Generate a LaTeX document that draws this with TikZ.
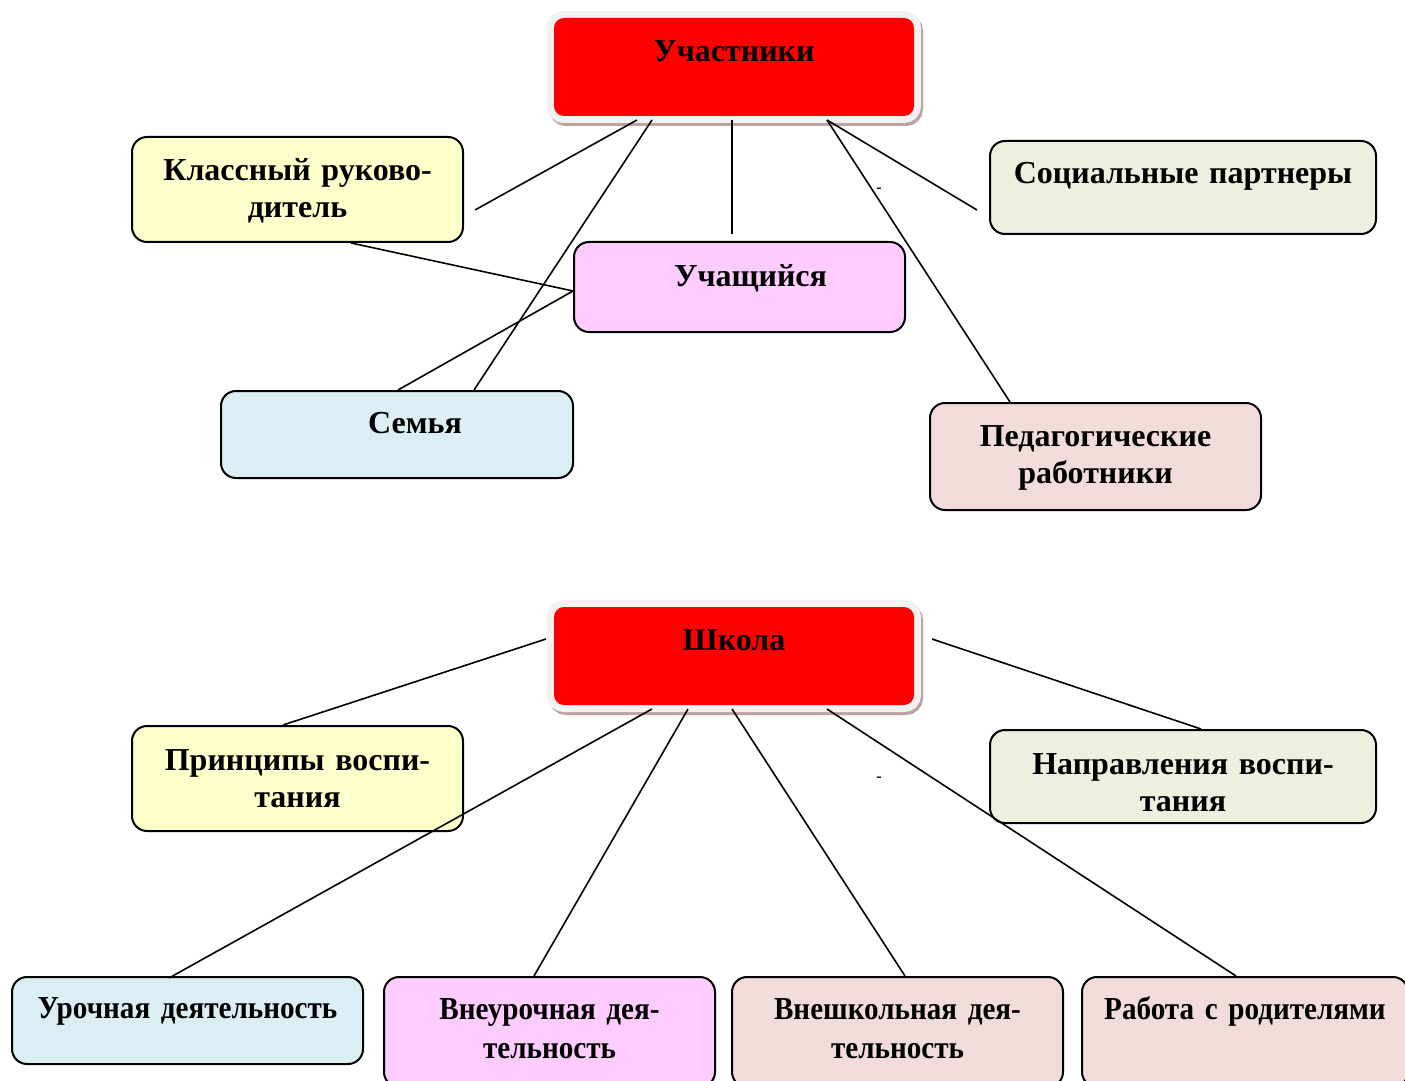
\documentclass[tikz,border=0pt]{standalone}
\usepackage{fontspec}
\setmainfont{Liberation Serif}
\newfontfamily\schmal[FakeStretch=0.91]{Liberation Serif}
\usetikzlibrary{calc}

\definecolor{gelb}{HTML}{FFFFCC}
\definecolor{rosa}{HTML}{FFCCFF}
\definecolor{hellblau}{HTML}{DAEEF3}
\definecolor{hellgruen}{HTML}{EBF1DE}
\definecolor{altrosa}{HTML}{F2DCDB}
\definecolor{rahmen}{HTML}{F2F2F2}
\definecolor{schatten}{HTML}{BFA3A3}

\begin{document}
\begin{tikzpicture}[x=0.5pt, y=-0.5pt,
    kasten/.style={draw, line width=1pt, rounded corners=7.5pt, inner sep=0pt,
      anchor=north west, align=center, font=\bfseries\fontsize{16}{18.5}\selectfont},
    schmalkasten/.style={kasten, font=\schmal\bfseries\fontsize{16}{19.5}\selectfont},
    rotkasten/.style={kasten, draw=none, fill=red, rounded corners=5pt,
      preaction={draw=schatten, fill=schatten, line width=7pt,
        transform canvas={xshift=1pt, yshift=-1.5pt}},
      preaction={draw=rahmen, fill=rahmen, line width=7pt}},
    linie/.style={line width=0.8pt},
    strich/.style={inner sep=0pt, font=\bfseries\fontsize{8}{9}\selectfont}]
            \useasboundingbox (0, 0) rectangle (1405, 1081);
            \clip (0, 0) rectangle (1405, 1081);

            % Teilnehmer
            \node [rotkasten, text width=180pt, text height=22pt, text depth=27pt] (uch) at (553, 17) {Участники};
            \node [kasten, fill=gelb, text width=165.5pt, text height=22pt, text depth=30.5pt] (klass) at (131, 136) {Классный руково-\\дитель};
            \node [kasten, fill=hellgruen, text width=193pt, text height=21.5pt, text depth=25pt] (sozial) at (989, 140) {Социальные партнеры};
            \node [kasten, fill=rosa, text width=165.5pt, text height=22pt, text depth=23pt] (schueler) at (573, 241) {\hspace*{11pt}Учащийся};
            \node [kasten, fill=hellblau, text width=176pt, text height=21pt, text depth=22.5pt] (familie) at (220, 390) {\hspace*{18pt}Семья};
            \node [kasten, fill=altrosa, text width=165.5pt, text height=21.5pt, text depth=32pt] (paed) at (929, 402) {Педагогические\\работники};
            \node [strich] (strichA) at (879, 190) {-};

            % Linien oben
            \draw [linie] ($(uch.south)+(-97, 3)$) -- ($(klass.east)+(11, 20.5)$);
            \draw [linie] ($(uch.south)+(-82, 3)$) -- ($(familie.north)+(77, 0)$);
            \draw [linie] ($(uch.south)+(-2, 3)$) -- ($(schueler.north)+(-7.5, -7)$);
            \draw [linie] ($(uch.south)+(93, 3)$) -- ($(sozial.west)+(-12, 22.5)$);
            \draw [linie] ($(uch.south)+(93, 3)$) -- ($(paed.north)+(-85.5, 0)$);
            \draw [linie] ($(klass.south)+(53.5, 0)$) -- ($(schueler.west)+(0, 4)$);
            \draw [linie] ($(familie.north)+(1, 0)$) -- ($(schueler.west)+(0, 4)$);

            % Schule
            \node [rotkasten, text width=180pt, text height=21.5pt, text depth=27.5pt] (schule) at (553, 606) {Школа};
            \node [kasten, fill=gelb, text width=165.5pt, text height=22pt, text depth=30.5pt] (prinz) at (131, 725) {Принципы воспи-\\тания};
            \node [kasten, fill=hellgruen, text width=193pt, text height=22pt, text depth=24.5pt] (richt) at (989, 729) {Направления воспи-\\тания};
            \node [schmalkasten, fill=hellblau, text width=175.5pt, text height=20.5pt, text depth=23pt] (unterr) at (11, 976) {Урочная деятельность};
            \node [schmalkasten, fill=rosa, text width=165.5pt, text height=21pt, text depth=34pt] (ausserunt) at (383, 976) {Внеурочная дея-\\тельность};
            \node [schmalkasten, fill=altrosa, text width=165.5pt, text height=21pt, text depth=34pt] (ausserschul) at (731, 976) {Внешкольная дея-\\тельность};
            \node [schmalkasten, fill=altrosa, text width=163pt, text height=21pt, text depth=34pt] (eltern) at (1081, 976) {Работа с родителями};
            \node [strich] (strichB) at (879, 779) {-};

            % Linien unten
            \draw [linie] ($(schule.west)+(-7, -17)$) -- ($(prinz.north)+(-14.5, 0)$);
            \draw [linie] ($(schule.east)+(17, -17)$) -- ($(richt.north)+(18, 0)$);
            \draw [linie] ($(schule.south)+(-82, 3)$) -- ($(unterr.north)+(-18.5, 2)$);
            \draw [linie] ($(schule.south)+(-46, 3)$) -- ($(ausserunt.north)+(-15.5, 0)$);
            \draw [linie] ($(schule.south)+(-2, 3)$) -- ($(ausserschul.north)+(7.5, 0)$);
            \draw [linie] ($(schule.south)+(93, 3)$) -- ($(eltern.north)+(-9, 0)$);
        \end{tikzpicture}
\end{document}
